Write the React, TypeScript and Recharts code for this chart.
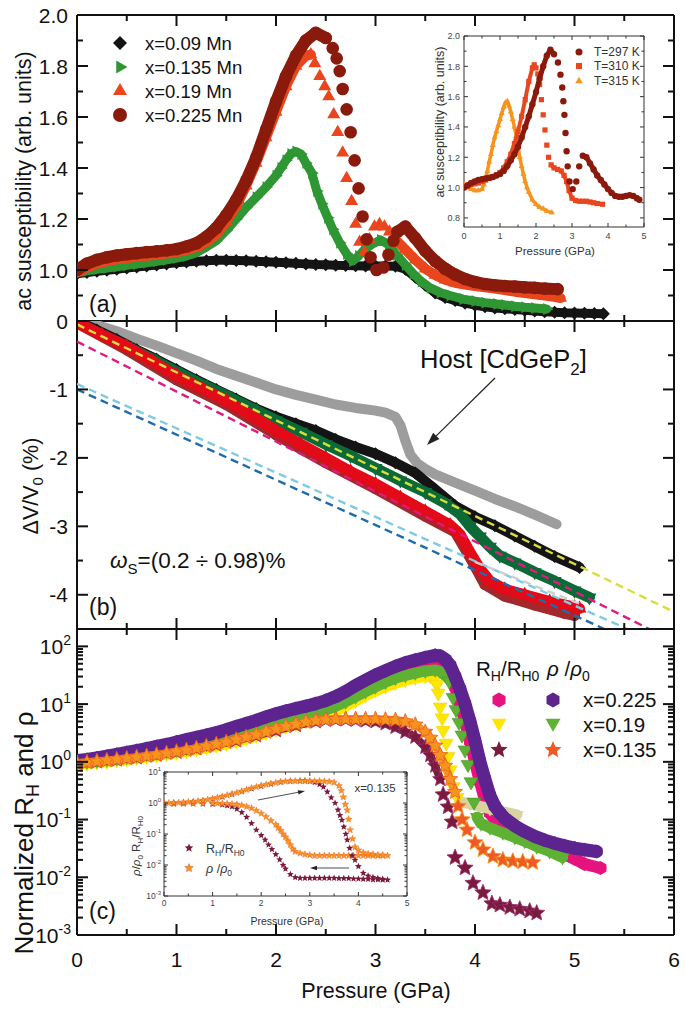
import React from "react";
import { ComposedChart, Scatter, XAxis, YAxis } from "recharts";

type Pair = [number, number];

// ---- panel (a): ac susceptibility, main ----
const aBlack: Pair[] = [
  [0, 0.985], [0.1, 0.99], [0.2, 0.995], [0.3, 0.999], [0.4, 1.003], [0.5, 1.008], [0.6, 1.012], [0.7, 1.016],
  [0.8, 1.02], [0.9, 1.024], [1.0, 1.028], [1.1, 1.031], [1.2, 1.034], [1.3, 1.036], [1.4, 1.038], [1.5, 1.038],
  [1.6, 1.037], [1.7, 1.036], [1.8, 1.034], [1.9, 1.032], [2.0, 1.03], [2.1, 1.028], [2.2, 1.026], [2.3, 1.024],
  [2.4, 1.022], [2.5, 1.021], [2.6, 1.019], [2.7, 1.018], [2.8, 1.017], [2.9, 1.016], [3.0, 1.016], [3.1, 1.016],
  [3.2, 1.015], [3.3, 1.003], [3.4, 0.972], [3.5, 0.94], [3.6, 0.91], [3.7, 0.892], [3.8, 0.88], [3.9, 0.87],
  [4.0, 0.862], [4.1, 0.856], [4.2, 0.851], [4.3, 0.848], [4.4, 0.845], [4.5, 0.842], [4.6, 0.839], [4.7, 0.836],
  [4.8, 0.834], [4.9, 0.832], [5.0, 0.831], [5.1, 0.83], [5.2, 0.829], [5.29, 0.828],
];
const aGreen: Pair[] = [
  [0, 0.99], [0.1, 0.997], [0.2, 1.003], [0.3, 1.008], [0.4, 1.013], [0.5, 1.018], [0.6, 1.023], [0.7, 1.028],
  [0.8, 1.034], [0.9, 1.04], [1.0, 1.047], [1.1, 1.055], [1.2, 1.068], [1.3, 1.09], [1.4, 1.115], [1.5, 1.155],
  [1.6, 1.2], [1.7, 1.245], [1.8, 1.285], [1.9, 1.325], [2.0, 1.37], [2.05, 1.4], [2.1, 1.43], [2.15, 1.455],
  [2.2, 1.465], [2.25, 1.455], [2.3, 1.42], [2.36, 1.38], [2.41, 1.31], [2.46, 1.26], [2.52, 1.205], [2.57, 1.16],
  [2.64, 1.107], [2.71, 1.063], [2.77, 1.035], [2.83, 1.055], [2.89, 1.08], [2.96, 1.1], [3.05, 1.118], [3.13, 1.1],
  [3.21, 1.06], [3.3, 1.02], [3.38, 0.985], [3.46, 0.955], [3.55, 0.93], [3.65, 0.912], [3.75, 0.9], [3.88, 0.886],
  [4.0, 0.878], [4.1, 0.872], [4.22, 0.867], [4.3, 0.863], [4.4, 0.858], [4.5, 0.854], [4.6, 0.851], [4.72, 0.847],
];
const aRedRise: Pair[] = [
  [0, 0.99], [0.1, 1.01], [0.2, 1.025], [0.3, 1.035], [0.4, 1.042], [0.5, 1.047], [0.6, 1.052], [0.7, 1.056],
  [0.8, 1.06], [0.9, 1.065], [1.0, 1.07], [1.1, 1.078], [1.2, 1.09], [1.3, 1.11], [1.4, 1.14], [1.5, 1.19],
  [1.6, 1.25], [1.7, 1.33], [1.8, 1.42], [1.9, 1.52], [2.0, 1.62], [2.1, 1.72], [2.2, 1.8], [2.3, 1.84], [2.35, 1.845],
];
const aRedDrop: Pair[] = [
  [2.39, 1.81], [2.44, 1.76], [2.49, 1.72], [2.53, 1.68], [2.58, 1.61], [2.62, 1.54], [2.67, 1.46], [2.71, 1.36],
  [2.76, 1.27], [2.8, 1.18], [2.84, 1.11], [2.89, 1.07], [2.94, 1.12], [2.99, 1.17], [3.04, 1.18], [3.09, 1.17], [3.14, 1.15],
];
const aRedTail: Pair[] = [
  [3.2, 1.12], [3.3, 1.08], [3.4, 1.04], [3.5, 1.005], [3.6, 0.98], [3.7, 0.962], [3.8, 0.95], [3.9, 0.943],
  [4.0, 0.937], [4.1, 0.932], [4.2, 0.927], [4.3, 0.921], [4.4, 0.915], [4.5, 0.91], [4.6, 0.905], [4.7, 0.9],
  [4.8, 0.895], [4.86, 0.89],
];
const aDarkRise: Pair[] = [
  [0, 1.0], [0.1, 1.025], [0.2, 1.04], [0.3, 1.05], [0.4, 1.057], [0.5, 1.062], [0.6, 1.066], [0.7, 1.07],
  [0.8, 1.073], [0.9, 1.077], [1.0, 1.082], [1.1, 1.092], [1.2, 1.105], [1.3, 1.13], [1.4, 1.165], [1.5, 1.215],
  [1.6, 1.275], [1.7, 1.35], [1.8, 1.44], [1.9, 1.55], [2.0, 1.66], [2.1, 1.76], [2.2, 1.84], [2.3, 1.9],
  [2.4, 1.93], [2.5, 1.91],
];
const aDarkDrop: Pair[] = [
  [2.57, 1.87], [2.61, 1.83], [2.64, 1.78], [2.67, 1.71], [2.71, 1.63], [2.75, 1.54], [2.79, 1.43], [2.83, 1.32],
  [2.87, 1.21], [2.91, 1.12], [2.95, 1.05], [3.01, 1.0], [3.08, 1.01], [3.13, 1.06], [3.18, 1.115],
];
const aDarkTail: Pair[] = [
  [3.22, 1.15], [3.3, 1.17], [3.4, 1.125], [3.5, 1.075], [3.6, 1.035], [3.7, 1.005], [3.8, 0.982], [3.9, 0.965],
  [4.0, 0.953], [4.1, 0.945], [4.2, 0.94], [4.3, 0.937], [4.4, 0.935], [4.5, 0.932], [4.6, 0.93], [4.7, 0.927], [4.83, 0.925],
];

// ---- panel (a) inset: x=0.225 at three temperatures ----
const iaT297Rise: Pair[] = [
  [0, 1.0], [0.1, 1.015], [0.2, 1.03], [0.3, 1.04], [0.4, 1.05], [0.5, 1.055], [0.6, 1.06], [0.7, 1.065], [0.8, 1.07],
  [0.9, 1.08], [1.0, 1.09], [1.1, 1.11], [1.2, 1.14], [1.3, 1.18], [1.4, 1.22], [1.5, 1.27], [1.6, 1.33], [1.7, 1.4],
  [1.8, 1.47], [1.9, 1.55], [2.0, 1.63], [2.1, 1.72], [2.2, 1.8], [2.3, 1.87], [2.4, 1.91], [2.5, 1.88],
];
const iaT297Drop: Pair[] = [
  [2.61, 1.825], [2.68, 1.745], [2.73, 1.66], [2.76, 1.57], [2.79, 1.48], [2.82, 1.36], [2.85, 1.24], [2.88, 1.14],
  [2.93, 1.04], [3.02, 0.99], [3.12, 1.04], [3.2, 1.14],
];
const iaT297Tail: Pair[] = [
  [3.3, 1.21], [3.4, 1.2], [3.5, 1.16], [3.6, 1.12], [3.7, 1.08], [3.8, 1.05], [3.9, 1.02], [4.0, 0.99], [4.1, 0.965],
  [4.2, 0.945], [4.3, 0.94], [4.4, 0.94], [4.5, 0.945], [4.6, 0.95], [4.7, 0.945], [4.8, 0.93], [4.87, 0.92],
];
const iaT310Rise: Pair[] = [
  [0, 1.0], [0.1, 1.01], [0.2, 1.02], [0.3, 1.025], [0.4, 1.03], [0.5, 1.04], [0.6, 1.05], [0.7, 1.06], [0.8, 1.07],
  [0.9, 1.085], [1.0, 1.1], [1.1, 1.13], [1.2, 1.17], [1.3, 1.22], [1.4, 1.29], [1.5, 1.37], [1.6, 1.47], [1.7, 1.58],
  [1.8, 1.7], [1.9, 1.79], [1.95, 1.81], [2.0, 1.79],
];
const iaT310Drop: Pair[] = [[2.05, 1.75], [2.1, 1.68], [2.15, 1.58], [2.2, 1.48], [2.25, 1.38], [2.3, 1.28], [2.35, 1.2]];
const iaT310Tail: Pair[] = [
  [2.42, 1.15], [2.5, 1.13], [2.6, 1.12], [2.7, 1.11], [2.78, 1.08], [2.85, 1.04], [2.92, 0.98], [3.0, 0.93],
  [3.1, 0.915], [3.2, 0.91], [3.3, 0.91], [3.4, 0.91], [3.5, 0.905], [3.6, 0.9], [3.7, 0.895], [3.85, 0.89],
];
const iaT315: Pair[] = [
  [0, 1.02], [0.1, 1.0], [0.2, 0.99], [0.3, 0.98], [0.4, 0.98], [0.5, 0.99], [0.55, 1.02], [0.6, 1.06], [0.65, 1.11],
  [0.7, 1.17], [0.75, 1.22], [0.8, 1.28], [0.85, 1.33], [0.9, 1.37], [0.95, 1.41], [1.0, 1.45], [1.05, 1.49],
  [1.1, 1.53], [1.15, 1.56], [1.2, 1.57], [1.25, 1.54], [1.3, 1.5], [1.35, 1.45], [1.4, 1.4], [1.45, 1.34],
  [1.5, 1.27], [1.55, 1.2], [1.6, 1.14], [1.65, 1.09], [1.7, 1.04], [1.75, 1.0], [1.8, 0.97], [1.9, 0.92],
  [2.0, 0.89], [2.1, 0.87], [2.2, 0.86], [2.3, 0.845], [2.44, 0.835],
];

// ---- panel (b): dV/V0 ----
const bHost: Pair[] = [
  [0, 0], [0.2, -0.06], [0.4, -0.15], [0.6, -0.26], [0.8, -0.36], [1.0, -0.47], [1.2, -0.58], [1.4, -0.7],
  [1.6, -0.8], [1.8, -0.9], [2.0, -1.0], [2.2, -1.08], [2.4, -1.15], [2.6, -1.22], [2.8, -1.27], [3.0, -1.31],
  [3.1, -1.34], [3.2, -1.4], [3.25, -1.52], [3.3, -1.75], [3.35, -1.95], [3.42, -2.08], [3.5, -2.16], [3.6, -2.24],
  [3.8, -2.36], [4.0, -2.48], [4.2, -2.6], [4.4, -2.71], [4.6, -2.83], [4.82, -2.97],
];
const bBlack: Pair[] = [
  [0, 0], [0.2, -0.13], [0.4, -0.27], [0.6, -0.42], [0.8, -0.56], [1.0, -0.71], [1.2, -0.86], [1.4, -1.0],
  [1.6, -1.14], [1.8, -1.28], [2.0, -1.4], [2.2, -1.5], [2.4, -1.6], [2.6, -1.73], [2.8, -1.84], [3.0, -1.94],
  [3.2, -2.07], [3.4, -2.22], [3.6, -2.46], [3.8, -2.7], [4.0, -2.86], [4.2, -2.99], [4.4, -3.14], [4.6, -3.29],
  [4.8, -3.44], [5.05, -3.6],
];
const bGreen: Pair[] = [
  [0, -0.02], [0.25, -0.2], [0.5, -0.37], [0.75, -0.55], [1.0, -0.74], [1.25, -0.92], [1.5, -1.09], [1.75, -1.27],
  [2.0, -1.45], [2.25, -1.62], [2.5, -1.8], [2.75, -1.97], [3.0, -2.15], [3.25, -2.33], [3.5, -2.5], [3.7, -2.66],
  [3.85, -2.82], [3.95, -3.0], [4.05, -3.15], [4.15, -3.3], [4.25, -3.43], [4.4, -3.53], [4.6, -3.67], [4.8, -3.8],
  [5.0, -3.94], [5.15, -4.04],
];
const bDark: Pair[] = [
  [0, -0.03], [0.5, -0.42], [1.0, -0.86], [1.5, -1.22], [2.0, -1.66], [2.5, -2.07], [3.0, -2.45], [3.5, -2.85],
  [3.8, -3.08], [3.95, -3.45], [4.1, -3.85], [4.3, -4.02], [4.6, -4.15], [4.9, -4.27], [5.0, -4.3],
];
const bRed: Pair[] = [
  [0, -0.02], [0.25, -0.2], [0.5, -0.37], [0.75, -0.58], [1.0, -0.8], [1.25, -0.98], [1.5, -1.16], [1.75, -1.38],
  [2.0, -1.6], [2.25, -1.8], [2.5, -2.0], [2.75, -2.2], [3.0, -2.38], [3.25, -2.58], [3.5, -2.78], [3.75, -2.98],
  [3.85, -3.12], [3.95, -3.38], [4.05, -3.62], [4.15, -3.8], [4.3, -3.92], [4.5, -4.0], [4.75, -4.1], [5.0, -4.18], [5.05, -4.2],
];
const bFitYellow: Pair[] = [[0, -0.05], [6, -4.25]];
const bFitMagenta: Pair[] = [[0, -0.3], [5.75, -4.5]];
const bFitCyan: Pair[] = [[0, -0.92], [5.53, -4.5]];
const bFitBlue: Pair[] = [[0, -1.0], [5.3, -4.5]];
const bFitGray: Pair[] = [[4.0, -3.52], [5.05, -4.13]];

// ---- panel (c): normalized R_H and rho ----
const cPink: Pair[] = [
  [0, 1.0], [0.2, 1.1], [0.4, 1.28], [0.6, 1.48], [0.8, 1.75], [1.0, 2.05], [1.2, 2.5], [1.4, 3.0], [1.6, 3.7],
  [1.8, 4.6], [2.0, 5.8], [2.2, 7.2], [2.4, 8.8], [2.6, 11.5], [2.8, 17], [3.0, 26], [3.2, 37], [3.4, 48], [3.5, 53],
  [3.6, 57], [3.65, 55], [3.7, 46], [3.75, 33], [3.8, 20], [3.85, 10], [3.9, 5], [3.95, 2.3], [4.0, 1.0], [4.05, 0.45],
  [4.1, 0.22], [4.15, 0.13], [4.2, 0.1], [4.3, 0.08], [4.4, 0.066], [4.5, 0.055], [4.6, 0.046], [4.7, 0.037],
  [4.8, 0.03], [4.9, 0.025], [5.0, 0.021], [5.1, 0.017], [5.26, 0.0145],
];
const cPurple: Pair[] = [
  [0, 1.05], [0.1, 1.1], [0.2, 1.17], [0.3, 1.25], [0.4, 1.35], [0.5, 1.45], [0.6, 1.57], [0.7, 1.7], [0.8, 1.85],
  [0.9, 2.0], [1.0, 2.2], [1.1, 2.42], [1.2, 2.65], [1.3, 2.9], [1.4, 3.2], [1.5, 3.6], [1.6, 4.1], [1.7, 4.6],
  [1.8, 5.2], [1.9, 6.0], [2.0, 6.8], [2.1, 7.6], [2.2, 8.4], [2.3, 9.2], [2.4, 10.2], [2.5, 11.5], [2.6, 13.5],
  [2.7, 16.5], [2.8, 21], [2.9, 26], [3.0, 32], [3.1, 38], [3.2, 45], [3.3, 52], [3.4, 58], [3.5, 64], [3.6, 70],
  [3.65, 68], [3.7, 60], [3.75, 47], [3.8, 30], [3.85, 18], [3.9, 10], [3.95, 5], [4.0, 2.3], [4.05, 1.0], [4.1, 0.5],
  [4.15, 0.26], [4.2, 0.17], [4.25, 0.13], [4.3, 0.105], [4.4, 0.078], [4.5, 0.062], [4.6, 0.051], [4.7, 0.044],
  [4.8, 0.039], [4.9, 0.035], [5.0, 0.032], [5.1, 0.03], [5.22, 0.028],
];
const cYellowRise: Pair[] = [
  [0, 0.9], [0.1, 0.93], [0.2, 0.97], [0.3, 1.01], [0.4, 1.05], [0.5, 1.1], [0.6, 1.15], [0.7, 1.21], [0.8, 1.28],
  [0.9, 1.35], [1.0, 1.43], [1.1, 1.52], [1.2, 1.63], [1.3, 1.75], [1.4, 1.9], [1.5, 2.05], [1.6, 2.25], [1.7, 2.5],
  [1.8, 2.8], [1.9, 3.15], [2.0, 3.6], [2.1, 4.0], [2.2, 4.5], [2.3, 5.0], [2.4, 5.6], [2.5, 6.4], [2.6, 7.6],
  [2.7, 9.2], [2.8, 11.3], [2.9, 14], [3.0, 17], [3.1, 20], [3.2, 23], [3.3, 26], [3.4, 28.5], [3.5, 30], [3.55, 30],
];
const cYellowDrop: Pair[] = [
  [3.59, 26], [3.62, 22], [3.63, 15.5], [3.65, 8.9], [3.67, 5.75], [3.68, 3.5], [3.71, 2.1], [3.73, 1.23],
  [3.75, 0.72], [3.78, 0.37], [3.82, 0.24],
];
const cYellowTail: Pair[] = [[3.85, 0.2], [3.95, 0.19], [4.05, 0.17], [4.15, 0.155], [4.25, 0.14], [4.35, 0.128], [4.42, 0.12]];
const cGreenRise: Pair[] = [
  [0, 0.95], [0.1, 0.99], [0.2, 1.04], [0.3, 1.09], [0.4, 1.14], [0.5, 1.2], [0.6, 1.27], [0.7, 1.35], [0.8, 1.43],
  [0.9, 1.51], [1.0, 1.6], [1.1, 1.72], [1.2, 1.86], [1.3, 2.02], [1.4, 2.22], [1.5, 2.45], [1.6, 2.72], [1.7, 3.0],
  [1.8, 3.4], [1.9, 3.9], [2.0, 4.5], [2.1, 5.1], [2.2, 5.7], [2.3, 6.3], [2.4, 7.0], [2.5, 7.9], [2.6, 9.2],
  [2.7, 11], [2.8, 13.5], [2.9, 16.5], [3.0, 20], [3.1, 24], [3.2, 28], [3.3, 31.5], [3.4, 34.5], [3.5, 37.5],
  [3.6, 39], [3.65, 37], [3.7, 31],
];
const cGreenDrop: Pair[] = [
  [3.74, 25], [3.78, 13], [3.81, 8], [3.84, 4.8], [3.87, 2.9], [3.9, 1.6], [3.93, 0.9], [3.96, 0.45], [3.99, 0.2],
];
const cGreenTail: Pair[] = [
  [4.02, 0.11], [4.06, 0.085], [4.15, 0.072], [4.28, 0.059], [4.4, 0.049], [4.5, 0.042], [4.62, 0.034], [4.75, 0.028], [4.88, 0.022],
];
const cMaroonRise: Pair[] = [
  [0, 0.95], [0.2, 1.01], [0.4, 1.09], [0.6, 1.19], [0.8, 1.32], [1.0, 1.48], [1.2, 1.7], [1.4, 1.98], [1.6, 2.35],
  [1.8, 2.85], [2.0, 3.5], [2.2, 4.3], [2.4, 5.0], [2.5, 5.3], [2.6, 5.4], [2.7, 5.4], [2.8, 5.3], [2.9, 5.15],
  [3.0, 5.0], [3.1, 4.6], [3.2, 4.0], [3.3, 3.3], [3.4, 2.7], [3.5, 1.8], [3.55, 1.3], [3.6, 0.85], [3.65, 0.5],
];
const cMaroonDrop: Pair[] = [
  [3.68, 0.27], [3.73, 0.166], [3.77, 0.091], [3.8, 0.022], [3.9, 0.0145], [3.98, 0.0079], [4.08, 0.0054],
  [4.17, 0.0035], [4.25, 0.0033], [4.35, 0.003], [4.45, 0.0028], [4.55, 0.0026], [4.62, 0.0024],
];
const cOrangeRise: Pair[] = [
  [0, 0.95], [0.1, 0.98], [0.2, 1.02], [0.3, 1.06], [0.4, 1.1], [0.5, 1.15], [0.6, 1.2], [0.7, 1.26], [0.8, 1.33],
  [0.9, 1.41], [1.0, 1.5], [1.1, 1.6], [1.2, 1.72], [1.3, 1.86], [1.4, 2.02], [1.5, 2.2], [1.6, 2.42], [1.7, 2.67],
  [1.8, 2.95], [1.9, 3.3], [2.0, 3.7], [2.1, 4.1], [2.2, 4.5], [2.3, 4.9], [2.4, 5.2], [2.5, 5.4], [2.6, 5.5],
  [2.7, 5.5], [2.8, 5.5], [2.9, 5.5], [3.0, 5.5], [3.1, 5.4], [3.2, 5.3], [3.3, 5.0], [3.4, 4.4], [3.5, 3.3],
  [3.55, 2.6], [3.6, 1.9], [3.65, 1.3], [3.7, 0.85], [3.75, 0.5], [3.8, 0.3],
];
const cOrangeDrop: Pair[] = [
  [3.83, 0.17], [3.87, 0.1], [3.92, 0.066], [4.0, 0.04], [4.08, 0.03], [4.18, 0.023], [4.28, 0.02], [4.38, 0.019],
  [4.48, 0.0185], [4.58, 0.018],
];

// ---- panel (c) inset: x=0.135, up and down sweeps ----
const icRhoUp: Pair[] = [
  [0, 1.0], [0.1, 1.0], [0.2, 1.02], [0.3, 1.03], [0.4, 1.05], [0.5, 1.08], [0.6, 1.1], [0.7, 1.15], [0.8, 1.2],
  [0.9, 1.28], [1.0, 1.38], [1.1, 1.5], [1.2, 1.62], [1.3, 1.78], [1.4, 1.95], [1.5, 2.15], [1.6, 2.4], [1.7, 2.7],
  [1.8, 3.0], [1.9, 3.3], [2.0, 3.6], [2.1, 3.9], [2.2, 4.2], [2.3, 4.5], [2.4, 4.8], [2.5, 5.0], [2.6, 5.1],
  [2.7, 5.1], [2.8, 5.1], [2.9, 5.1], [3.0, 5.1], [3.1, 5.1], [3.2, 5.1], [3.3, 5.0], [3.4, 4.9], [3.5, 4.6],
  [3.6, 3.6], [3.65, 2.5], [3.69, 1.55], [3.73, 0.9], [3.77, 0.59], [3.8, 0.3], [3.83, 0.135], [3.88, 0.07],
  [3.93, 0.038], [4.0, 0.03], [4.1, 0.025], [4.2, 0.023], [4.3, 0.022], [4.4, 0.021], [4.5, 0.021], [4.6, 0.02],
];
const icRhoDown: Pair[] = [
  [4.5, 0.02], [4.4, 0.02], [4.3, 0.02], [4.2, 0.02], [4.1, 0.02], [4.0, 0.02], [3.9, 0.02], [3.8, 0.02],
  [3.7, 0.02], [3.6, 0.02], [3.5, 0.02], [3.4, 0.02], [3.3, 0.02], [3.2, 0.02], [3.1, 0.02], [3.0, 0.021],
  [2.9, 0.022], [2.8, 0.024], [2.7, 0.027], [2.65, 0.033], [2.6, 0.045], [2.55, 0.06], [2.5, 0.08], [2.45, 0.1],
  [2.4, 0.13], [2.35, 0.16], [2.3, 0.2], [2.2, 0.27], [2.1, 0.36], [2.0, 0.46], [1.9, 0.57], [1.8, 0.68],
  [1.7, 0.77], [1.6, 0.85], [1.5, 0.9], [1.4, 0.93], [1.3, 0.95], [1.2, 0.96], [1.1, 0.97], [1.0, 0.97],
  [0.8, 0.97], [0.6, 0.96], [0.4, 0.95], [0.2, 0.94], [0, 0.93],
];
const icRhUp: Pair[] = [
  [0, 0.98], [0.2, 1.0], [0.4, 1.04], [0.6, 1.09], [0.8, 1.18], [1.0, 1.35], [1.2, 1.58], [1.4, 1.9], [1.6, 2.35],
  [1.8, 2.9], [2.0, 3.5], [2.2, 4.1], [2.4, 4.7], [2.6, 5.1], [2.8, 5.2], [2.9, 5.15], [3.0, 5.0], [3.1, 4.6],
  [3.2, 4.0], [3.28, 3.3], [3.36, 2.3], [3.44, 1.5], [3.52, 1.0], [3.58, 0.6], [3.62, 0.4], [3.66, 0.28],
  [3.7, 0.17], [3.74, 0.1], [3.77, 0.065], [3.82, 0.035], [3.87, 0.02], [3.93, 0.0145], [4.0, 0.009], [4.1, 0.0055],
  [4.2, 0.0045], [4.3, 0.004], [4.4, 0.0037], [4.5, 0.0035], [4.6, 0.0033],
];
const icRhDown: Pair[] = [
  [4.5, 0.0033], [4.4, 0.0034], [4.3, 0.0034], [4.2, 0.0035], [4.1, 0.0035], [4.0, 0.0036], [3.9, 0.0036],
  [3.8, 0.0037], [3.7, 0.0037], [3.6, 0.0037], [3.5, 0.0038], [3.4, 0.0038], [3.3, 0.0038], [3.2, 0.0038],
  [3.1, 0.0038], [3.0, 0.0038], [2.9, 0.0038], [2.8, 0.0038], [2.7, 0.004], [2.6, 0.005], [2.5, 0.0075],
  [2.45, 0.01], [2.38, 0.015], [2.3, 0.022], [2.22, 0.032], [2.15, 0.045], [2.08, 0.065], [2.0, 0.09],
  [1.9, 0.135], [1.8, 0.22], [1.7, 0.35], [1.6, 0.5], [1.5, 0.65], [1.4, 0.76], [1.3, 0.83], [1.2, 0.88],
  [1.0, 0.92], [0.8, 0.94], [0.6, 0.95], [0.4, 0.95], [0.2, 0.95], [0, 0.95],
];

// ---- axis ticks (major / minor) ----
const pMajor = [0, 1, 2, 3, 4, 5, 6];
const pMinor = [0.5, 1.5, 2.5, 3.5, 4.5, 5.5];
const aMajor = [0.8, 1.0, 1.2, 1.4, 1.6, 1.8, 2.0];
const aMinor = [0.9, 1.1, 1.3, 1.5, 1.7, 1.9];
const bMajor = [0, -1, -2, -3, -4];
const bMinor = [-0.5, -1.5, -2.5, -3.5, -4.5];
const cDecades = [0.001, 0.01, 0.1, 1, 10, 100];
const minorSteps = [2, 3, 4, 5, 6, 7, 8, 9];
const iaPMajor = [0, 1, 2, 3, 4, 5];
const iaPMinor = [0.5, 1.5, 2.5, 3.5, 4.5];
const iaYMajor = [0.8, 1.0, 1.2, 1.4, 1.6, 1.8, 2.0];
const iaYMinor = [0.9, 1.1, 1.3, 1.5, 1.7, 1.9];
const icDecades = [0.001, 0.01, 0.1, 1, 10];

const logMinor = (dec: number[], top: number) => {
  const out: number[] = [];
  dec.forEach((d) => minorSteps.forEach((m) => d * m <= top * 1.0001 && out.push(d * m)));
  return out;
};

const FONT = "'Liberation Sans', Arial, Helvetica, sans-serif";
const pts = (a: Pair[]) => a.map(([p, v]) => ({ p, v }));

type Kind = "circle" | "diamond" | "triUp" | "triDown" | "triRight" | "square" | "hex" | "star";

function marker(kind: Kind, cx: number, cy: number, s: number, fill: string, stroke?: string, sw?: number) {
  const st = { fill, stroke: stroke || "none", strokeWidth: sw || 0 };
  const poly = (p: number[][]) => <polygon points={p.map((q) => q.join(",")).join(" ")} {...st} />;
  switch (kind) {
    case "circle":
      return <circle cx={cx} cy={cy} r={s} {...st} />;
    case "square":
      return <rect x={cx - s} y={cy - s} width={2 * s} height={2 * s} {...st} />;
    case "diamond":
      return poly([[cx, cy - s], [cx + s, cy], [cx, cy + s], [cx - s, cy]]);
    case "triUp":
      return poly([[cx, cy - 1.15 * s], [cx + s, cy + 0.58 * s], [cx - s, cy + 0.58 * s]]);
    case "triDown":
      return poly([[cx, cy + 1.15 * s], [cx + s, cy - 0.58 * s], [cx - s, cy - 0.58 * s]]);
    case "triRight":
      return poly([[cx + 1.15 * s, cy], [cx - 0.58 * s, cy - s], [cx - 0.58 * s, cy + s]]);
    case "hex": {
      const p: number[][] = [];
      for (let k = 0; k < 6; k++) {
        const a = (Math.PI / 3) * k - Math.PI / 2;
        p.push([cx + s * Math.cos(a), cy + s * Math.sin(a)]);
      }
      return poly(p);
    }
    case "star": {
      const p: number[][] = [];
      for (let k = 0; k < 10; k++) {
        const r = k % 2 === 0 ? s : s * 0.45;
        const a = (Math.PI / 5) * k - Math.PI / 2;
        p.push([cx + r * Math.cos(a), cy + r * Math.sin(a)]);
      }
      return poly(p);
    }
  }
  return <g />;
}

const blank = () => <g />;

type Mk = { kind: Kind; s: number; fill: string; stroke?: string; sw?: number };

function series(id: string, data: Pair[], mk: Mk | null, lw = 0, lineColor?: string, dash?: string) {
  return (
    <Scatter
      key={id}
      data={pts(data)}
      xAxisId="b"
      yAxisId="l"
      isAnimationActive={false}
      shape={mk ? (pr: any) => marker(mk.kind, pr.cx, pr.cy, mk.s, mk.fill, mk.stroke, mk.sw) : blank}
      line={
        lw > 0
          ? { stroke: lineColor || (mk ? mk.fill : "#000"), strokeWidth: lw, strokeLinejoin: "round", strokeLinecap: dash ? "butt" : "round", strokeDasharray: dash }
          : false
      }
    />
  );
}

// tick labels drawn by recharts (only for the listed major values)
const tickLabel =
  (side: "bottom" | "left", majors: number[], fmt: (v: number) => React.ReactNode, off: number, fs: number, color: string) =>
  (props: any) => {
    const x = Number(props.x);
    const y = Number(props.y);
    const v = props.payload.value as number;
    const lab = majors.some((q) => Math.abs(q - v) <= Math.abs(q) * 1e-6 + 1e-9) ? fmt(v) : null;
    if (lab == null) return <g />;
    return side === "bottom" ? (
      <text x={x} y={y + off} textAnchor="middle" fontSize={fs} fill={color} fontFamily={FONT}>
        {lab}
      </text>
    ) : (
      <text x={x - off} y={y} dy="0.36em" textAnchor="end" fontSize={fs} fill={color} fontFamily={FONT}>
        {lab}
      </text>
    );
  };

const pow10 = (sup: number, rise: number) => (v: number) => {
  const e = Math.round(Math.log10(v));
  return [
    <tspan key="b">10</tspan>,
    <tspan key="e" dy={-rise} fontSize={sup}>
      {e}
    </tspan>,
  ];
};

type AxCfg = {
  xDomain: [number, number];
  xMajor: number[];
  xLabel?: (v: number) => React.ReactNode;
  yDomain: [number, number];
  yMajor: number[];
  yLabel?: (v: number) => React.ReactNode;
  log?: boolean;
  frame: number;
  color: string;
  fs: number;
  xOff: number;
  yOff: number;
  textColor: string;
};

// axes get a 1px box because a zero-size axis is not drawn; chart margins are reduced by 1px to compensate
function axes(o: AxCfg) {
  const frameLine = { stroke: o.color, strokeWidth: o.frame };
  const x: any = { dataKey: "p", type: "number", domain: o.xDomain, ticks: o.xMajor, interval: 0, height: 1, tickSize: 0, tickMargin: 0, tickLine: false, axisLine: frameLine, allowDataOverflow: true };
  const y: any = {
    dataKey: "v",
    type: "number",
    domain: o.yDomain,
    ticks: o.yMajor,
    interval: 0,
    width: 1,
    tickSize: 0,
    tickMargin: 0,
    tickLine: false,
    axisLine: frameLine,
    allowDataOverflow: true,
    scale: o.log ? "log" : "linear",
  };
  return [
    <XAxis key="xb" xAxisId="b" {...x} tick={o.xLabel ? tickLabel("bottom", o.xMajor, o.xLabel, o.xOff, o.fs, o.textColor) : false} />,
    <XAxis key="xt" xAxisId="t" orientation="top" {...x} tick={false} />,
    <YAxis key="yl" yAxisId="l" {...y} tick={o.yLabel ? tickLabel("left", o.yMajor, o.yLabel, o.yOff, o.fs, o.textColor) : false} />,
    <YAxis key="yr" yAxisId="r" orientation="right" {...y} tick={false} />,
  ];
}

const anchor = (data: Pair[]) => (
  <Scatter key="anchor" data={pts(data)} xAxisId="t" yAxisId="r" isAnimationActive={false} shape={blank} />
);

// inward tick marks (filled rects) on all four sides of a frame, placed on the same plot box the charts use
type FrameTicks = {
  x0: number; x1: number; y0: number; y1: number;
  xDom: [number, number]; yDom: [number, number]; log?: boolean;
  xMaj: number[]; xMin: number[]; yMaj: number[]; yMin: number[];
  maj: number; min: number; sw: number; color: string;
};
function frameTicks(f: FrameTicks, key: string) {
  const sx = (p: number) => f.x0 + ((p - f.xDom[0]) / (f.xDom[1] - f.xDom[0])) * (f.x1 - f.x0);
  const t = (v: number) => (f.log ? Math.log10(v) : v);
  const sy = (v: number) => f.y1 - ((t(v) - t(f.yDom[0])) / (t(f.yDom[1]) - t(f.yDom[0]))) * (f.y1 - f.y0);
  const out: React.ReactNode[] = [];
  const h = f.sw / 2;
  const add = (vals: number[], len: number, vertical: boolean, tag: string) =>
    vals.forEach((v, i) => {
      if (vertical) {
        const X = sx(v);
        out.push(<rect key={`${key}${tag}b${i}`} x={X - h} y={f.y1 - len} width={f.sw} height={len} fill={f.color} />);
        out.push(<rect key={`${key}${tag}t${i}`} x={X - h} y={f.y0} width={f.sw} height={len} fill={f.color} />);
      } else {
        const Y = sy(v);
        out.push(<rect key={`${key}${tag}l${i}`} x={f.x0} y={Y - h} width={len} height={f.sw} fill={f.color} />);
        out.push(<rect key={`${key}${tag}r${i}`} x={f.x1 - len} y={Y - h} width={len} height={f.sw} fill={f.color} />);
      }
    });
  add(f.xMaj, f.maj, true, "xM");
  add(f.xMin, f.min, true, "xm");
  add(f.yMaj, f.maj, false, "yM");
  add(f.yMin, f.min, false, "ym");
  return out;
}

const mainAx = { frame: 2, color: "#111", fs: 21, textColor: "#111" };
const insetAx = { frame: 1, color: "#333", textColor: "#444" };
const mainTk = { x0: 77, x1: 674, xDom: [0, 6] as [number, number], xMaj: pMajor, xMin: pMinor, maj: 11, min: 6, sw: 2, color: "#111" };
const insetTk = { xDom: [0, 5] as [number, number], xMaj: iaPMajor, xMin: iaPMinor, maj: 4, min: 2.5, sw: 1, color: "#333" };

const C = {
  black: "#141414",
  green: "#2F9634",
  red: "#E9461D",
  dark: "#8A1A0C",
  orange: "#F7941D",
  gray: "#9D9D9D",
  dGreen: "#0B6A36",
  bRed: "#E30B17",
  bDark: "#A3282C",
  yellowDash: "#D9DE3C",
  magenta: "#E2197F",
  cyan: "#7ECBE3",
  blue: "#1E6BB0",
  lgray: "#CFCFCF",
  pink: "#E5137E",
  purple: "#5D2490",
  yellow: "#FFE600",
  khaki: "#DBD39F",
  lgreen: "#5EB133",
  maroon: "#7A1A3C",
  starOr: "#F7941D",
  starEdge: "#EF5A24",
};

function arrow(x1: number, y1: number, x2: number, y2: number, len: number, w: number, color: string, sw: number) {
  const d = Math.hypot(x2 - x1, y2 - y1);
  const ux = (x2 - x1) / d;
  const uy = (y2 - y1) / d;
  const bx = x2 - ux * len;
  const by = y2 - uy * len;
  const p = `${x2},${y2} ${bx - uy * w},${by + ux * w} ${bx + uy * w},${by - ux * w}`;
  return (
    <g>
      <line x1={x1} y1={y1} x2={bx} y2={by} stroke={color} strokeWidth={sw} />
      <polygon points={p} fill={color} />
    </g>
  );
}

export default function App() {
  const pos = (l: number, t: number): React.CSSProperties => ({ position: "absolute", left: l, top: t });
  return (
    <div style={{ position: "absolute", left: 0, top: 0, width: 685, height: 1010, background: "#fff", fontFamily: FONT }}>
      {/* (a) plot box x 77..674, y 15..321 */}
      <div style={pos(0, 0)}>
        <ComposedChart width={685} height={331} margin={{ top: 14, right: 10, bottom: 9, left: 76 }}>
          {axes({
            ...mainAx,
            xDomain: [0, 6],
            xMajor: pMajor,
            yDomain: [0.8, 2.0],
            yMajor: aMajor,
            yLabel: (v) => (v > 0.95 ? v.toFixed(1) : null),
            xOff: 0,
            yOff: 9,
          })}
          {anchor(aBlack)}
          {series("aBlack", aBlack, { kind: "diamond", s: 6.5, fill: C.black }, 9)}
          {series("aGreen", aGreen, { kind: "triRight", s: 6, fill: C.green }, 9)}
          {series("aRedRise", aRedRise, { kind: "triUp", s: 6.5, fill: C.red }, 10)}
          {series("aRedDrop", aRedDrop, { kind: "triUp", s: 6.5, fill: C.red })}
          {series("aRedTail", aRedTail, { kind: "triUp", s: 6.5, fill: C.red }, 10)}
          {series("aDarkRise", aDarkRise, { kind: "circle", s: 6.3, fill: C.dark }, 12)}
          {series("aDarkDrop", aDarkDrop, { kind: "circle", s: 6.3, fill: C.dark })}
          {series("aDarkTail", aDarkTail, { kind: "circle", s: 6.3, fill: C.dark }, 12)}
        </ComposedChart>
      </div>

      {/* (b) plot box y 321..629 */}
      <div style={pos(0, 311)}>
        <ComposedChart width={685} height={328} margin={{ top: 9, right: 10, bottom: 9, left: 76 }}>
          {axes({
            ...mainAx,
            xDomain: [0, 6],
            xMajor: pMajor,
            yDomain: [-4.5, 0],
            yMajor: bMajor,
            yLabel: (v) => String(Math.round(v)),
            xOff: 0,
            yOff: 9,
          })}
          {anchor(bBlack)}
          {series("bHost", bHost, { kind: "circle", s: 4, fill: C.gray }, 10)}
          {series("bBlack", bBlack, { kind: "diamond", s: 6.5, fill: C.black }, 10)}
          {series("bGreen", bGreen, { kind: "triDown", s: 7, fill: C.dGreen }, 11)}
          {series("bDark", bDark, { kind: "circle", s: 5.5, fill: C.bDark }, 11)}
          {series("bRed", bRed, { kind: "triUp", s: 7, fill: C.bRed }, 11)}
          {series("fitBlue", bFitBlue, null, 2.4, C.blue, "8 5")}
          {series("fitCyan", bFitCyan, null, 2.4, C.cyan, "8 5")}
          {series("fitMagenta", bFitMagenta, null, 2.4, C.magenta, "8 5")}
          {series("fitYellow", bFitYellow, null, 2.4, C.yellowDash, "8 5")}
          {series("fitGray", bFitGray, null, 2.4, C.lgray, "8 5")}
        </ComposedChart>
      </div>

      {/* (c) plot box y 629..935 */}
      <div style={pos(0, 619)}>
        <ComposedChart width={685} height={391} margin={{ top: 9, right: 10, bottom: 74, left: 76 }}>
          {axes({
            ...mainAx,
            xDomain: [0, 6],
            xMajor: pMajor,
            xLabel: (v) => String(v),
            yDomain: [0.001, 200],
            yMajor: cDecades,
            yLabel: pow10(14, 9),
            log: true,
            xOff: 32,
            yOff: 6,
          })}
          {anchor(cPurple)}
          {series("cPink", cPink, { kind: "hex", s: 7, fill: C.pink }, 12)}
          {series("cYellowRise", cYellowRise, { kind: "triDown", s: 7, fill: C.yellow }, 11)}
          {series("cYellowTail", cYellowTail, { kind: "triDown", s: 7, fill: C.khaki }, 11)}
          {series("cYellowDrop", cYellowDrop, { kind: "triDown", s: 7, fill: C.yellow, stroke: "#E8D000", sw: 0.5 })}
          {series("cGreenRise", cGreenRise, { kind: "triDown", s: 7, fill: C.lgreen }, 11)}
          {series("cGreenDrop", cGreenDrop, { kind: "triDown", s: 7, fill: C.lgreen, stroke: "#3E9A22", sw: 0.6 })}
          {series("cGreenTail", cGreenTail, { kind: "triDown", s: 7, fill: C.lgreen }, 11)}
          {series("cPurple", cPurple, { kind: "hex", s: 7, fill: C.purple }, 13)}
          {series("cMaroonRise", cMaroonRise, { kind: "star", s: 8, fill: C.maroon, stroke: "#9A3070", sw: 0.8 }, 8)}
          {series("cMaroonDrop", cMaroonDrop, { kind: "star", s: 8.5, fill: C.maroon, stroke: "#9A3070", sw: 0.8 })}
          {series("cOrangeRise", cOrangeRise, { kind: "star", s: 8, fill: C.starOr, stroke: C.starEdge, sw: 0.8 }, 8)}
          {series("cOrangeDrop", cOrangeDrop, { kind: "star", s: 8.5, fill: C.starEdge, stroke: C.starOr, sw: 0.8 })}
        </ComposedChart>
      </div>

      {/* inset (a) plot box x 464..644, y 36..227 */}
      <div style={pos(430, 26)}>
        <ComposedChart width={225} height={241} margin={{ top: 9, right: 10, bottom: 39, left: 33 }}>
          {axes({
            ...insetAx,
            fs: 9,
            xDomain: [0, 5],
            xMajor: iaPMajor,
            xLabel: (v) => String(v),
            yDomain: [0.74, 2.0],
            yMajor: iaYMajor,
            yLabel: (v) => v.toFixed(1),
            xOff: 12,
            yOff: 4,
          })}
          {anchor(iaT297Rise)}
          {series("iaT315", iaT315, { kind: "triUp", s: 3, fill: C.orange }, 3.5)}
          {series("iaT310Rise", iaT310Rise, { kind: "square", s: 2.6, fill: C.red }, 4)}
          {series("iaT310Drop", iaT310Drop, { kind: "square", s: 2.6, fill: C.red })}
          {series("iaT310Tail", iaT310Tail, { kind: "square", s: 2.6, fill: C.red }, 4)}
          {series("iaT297Rise", iaT297Rise, { kind: "circle", s: 3.2, fill: C.dark }, 5)}
          {series("iaT297Drop", iaT297Drop, { kind: "circle", s: 3.2, fill: C.dark })}
          {series("iaT297Tail", iaT297Tail, { kind: "circle", s: 3.2, fill: C.dark }, 5)}
        </ComposedChart>
      </div>

      {/* inset (c) plot box x 164..407, y 772..896 */}
      <div style={pos(124, 762)}>
        <ComposedChart width={294} height={168} margin={{ top: 9, right: 10, bottom: 33, left: 39 }}>
          {axes({
            ...insetAx,
            fs: 8.5,
            xDomain: [0, 5],
            xMajor: iaPMajor,
            xLabel: (v) => String(v),
            yDomain: [0.001, 10],
            yMajor: icDecades,
            yLabel: pow10(6, 4),
            log: true,
            xOff: 10,
            yOff: 3,
          })}
          {anchor(icRhoUp)}
          {series("icRhDown", icRhDown, { kind: "star", s: 3.6, fill: C.maroon })}
          {series("icRhoDown", icRhoDown, { kind: "star", s: 3.6, fill: C.starOr, stroke: C.starEdge, sw: 0.4 })}
          {series("icRhUp", icRhUp, { kind: "star", s: 3.6, fill: C.maroon })}
          {series("icRhoUp", icRhoUp, { kind: "star", s: 3.6, fill: C.starOr, stroke: C.starEdge, sw: 0.4 })}
        </ComposedChart>
      </div>

      {/* annotations and tick marks */}
      <svg width={685} height={1010} style={{ position: "absolute", left: 0, top: 0, pointerEvents: "none" }} fontFamily={FONT}>
        {frameTicks({ ...mainTk, y0: 15, y1: 321, yDom: [0.8, 2.0], yMaj: aMajor, yMin: aMinor }, "ta")}
        {frameTicks({ ...mainTk, y0: 321, y1: 629, yDom: [-4.5, 0], yMaj: bMajor, yMin: bMinor }, "tb")}
        {frameTicks({ ...mainTk, y0: 629, y1: 935, yDom: [0.001, 200], log: true, yMaj: cDecades, yMin: logMinor(cDecades, 200) }, "tc")}
        {frameTicks({ ...insetTk, x0: 464, x1: 644, y0: 36, y1: 227, yDom: [0.74, 2.0], yMaj: iaYMajor, yMin: iaYMinor }, "tia")}
        {frameTicks({ ...insetTk, x0: 164, x1: 407, y0: 772, y1: 896, yDom: [0.001, 10], log: true, yMaj: icDecades, yMin: logMinor(icDecades, 10) }, "tic")}

        <text transform="rotate(-90)" x={-181} y={31} textAnchor="middle" fontSize={21.5} fill="#111">
          ac susceptibility (arb. units)
        </text>
        <text transform="rotate(-90)" x={-486} y={38} textAnchor="middle" fontSize={21.5} fill="#111">
          ΔV/V<tspan dy={5} fontSize={15}>0</tspan>
          <tspan dy={-5}> (%)</tspan>
        </text>
        <text transform="rotate(-90)" x={-833} y={33} textAnchor="middle" fontSize={26} fill="#111">
          Normalized R<tspan dy={6} fontSize={18}>H</tspan>
          <tspan dy={-6}> and ρ</tspan>
        </text>
        <text x={376} y={998} textAnchor="middle" fontSize={21.5} fill="#111">
          Pressure (GPa)
        </text>

        <text x={89} y={312} fontSize={23} fill="#111">(a)</text>
        <text x={89} y={615} fontSize={23} fill="#111">(b)</text>
        <text x={89} y={919} fontSize={23} fill="#111">(c)</text>

        {marker("diamond", 120, 43, 7, C.black)}
        {marker("triRight", 120, 67, 6.5, C.green)}
        {marker("triUp", 120, 91, 7, C.red)}
        {marker("circle", 120, 115, 7, C.dark)}
        <text x={145} y={43} dy="0.36em" fontSize={18.5} fill="#111">x=0.09 Mn</text>
        <text x={145} y={67} dy="0.36em" fontSize={18.5} fill="#111">x=0.135 Mn</text>
        <text x={145} y={91} dy="0.36em" fontSize={18.5} fill="#111">x=0.19 Mn</text>
        <text x={145} y={115} dy="0.36em" fontSize={18.5} fill="#111">x=0.225 Mn</text>

        <text transform="rotate(-90)" x={-122} y={444} textAnchor="middle" fontSize={12.5} fill="#333">
          ac susceptibility (arb. units)
        </text>
        <text x={555} y={255} textAnchor="middle" fontSize={11.5} fill="#333">
          Pressure (GPa)
        </text>
        {marker("circle", 579, 52, 3.5, C.dark)}
        {marker("square", 579, 66, 3, C.red)}
        {marker("triUp", 579, 81, 3.8, C.orange)}
        <text x={594} y={52} dy="0.36em" fontSize={12} fill="#333">T=297 K</text>
        <text x={594} y={66} dy="0.36em" fontSize={12} fill="#333">T=310 K</text>
        <text x={594} y={81} dy="0.36em" fontSize={12} fill="#333">T=315 K</text>

        <text x={420} y={368} fontSize={25.5} fill="#111">
          Host [CdGeP<tspan dy={7} fontSize={17}>2</tspan>
          <tspan dy={-7}>]</tspan>
        </text>
        {arrow(495, 378, 427, 445, 13, 4.5, "#222", 1.2)}
        <text x={110} y={568} fontSize={22.5} fill="#111">
          <tspan fontStyle="italic">ω</tspan>
          <tspan dy={6} fontSize={15}>S</tspan>
          <tspan dy={-6}>=(0.2 ÷ 0.98)%</tspan>
        </text>

        <text x={476} y={676} fontSize={20.5} fill="#111">
          R<tspan dy={5} fontSize={14}>H</tspan>
          <tspan dy={-5}>/R</tspan>
          <tspan dy={5} fontSize={14}>H0</tspan>
        </text>
        <text x={547} y={676} fontSize={20.5} fill="#111">
          <tspan fontStyle="italic">ρ</tspan>
          <tspan> /</tspan>
          <tspan fontStyle="italic">ρ</tspan>
          <tspan dy={5} fontSize={14}>0</tspan>
        </text>
        {marker("hex", 499, 700, 7.5, C.pink)}
        {marker("hex", 553, 700, 7.5, C.purple)}
        {marker("triDown", 499, 723, 7.5, C.yellow)}
        {marker("triDown", 553, 723, 7.5, C.lgreen)}
        {marker("star", 499, 750, 9, C.maroon)}
        {marker("star", 553, 750, 9, C.starEdge)}
        <text x={583} y={700} dy="0.36em" fontSize={20.5} fill="#111">x=0.225</text>
        <text x={583} y={725} dy="0.36em" fontSize={20.5} fill="#111">x=0.19</text>
        <text x={583} y={750} dy="0.36em" fontSize={20.5} fill="#111">x=0.135</text>

        <text transform="rotate(-90)" x={-846} y={140} textAnchor="middle" fontSize={11.5} fill="#333">
          <tspan fontStyle="italic">ρ</tspan>/<tspan fontStyle="italic">ρ</tspan>
          <tspan dy={3} fontSize={8}>0</tspan>
          <tspan dy={-3}>{"   R"}</tspan>
          <tspan dy={3} fontSize={8}>H</tspan>
          <tspan dy={-3}>/R</tspan>
          <tspan dy={3} fontSize={8}>H0</tspan>
        </text>
        <text x={287} y={925} textAnchor="middle" fontSize={10.5} fill="#333">
          Pressure (GPa)
        </text>
        <text x={375} y={792} textAnchor="middle" fontSize={11.5} fill="#333">
          x=0.135
        </text>
        {marker("star", 189, 848, 4.5, C.maroon)}
        {marker("star", 189, 868, 4.5, C.starOr, C.starEdge, 0.5)}
        <text x={206} y={848} dy="0.36em" fontSize={12.5} fill="#333">
          R<tspan dy={3} fontSize={8.5}>H</tspan>
          <tspan dy={-3}>/R</tspan>
          <tspan dy={3} fontSize={8.5}>H0</tspan>
        </text>
        <text x={206} y={868} dy="0.36em" fontSize={12.5} fill="#333">
          <tspan fontStyle="italic">ρ</tspan>
          <tspan> /</tspan>
          <tspan fontStyle="italic">ρ</tspan>
          <tspan dy={3} fontSize={8.5}>0</tspan>
        </text>
        {arrow(258, 800, 305, 791, 7, 2.2, "#222", 0.8)}
        {arrow(349, 868, 310, 868, 7, 2.2, "#222", 0.8)}
      </svg>
    </div>
  );
}
